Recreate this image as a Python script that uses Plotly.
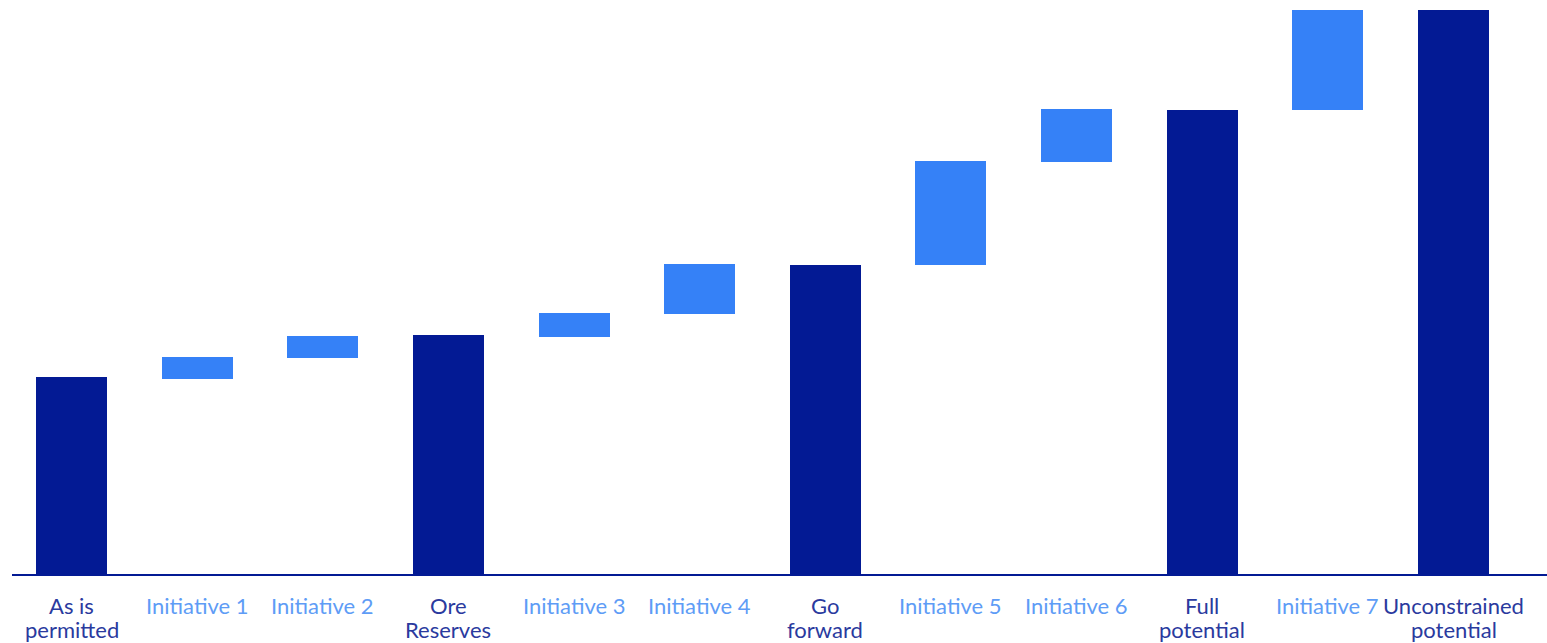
import plotly.graph_objects as go

# Waterfall steps: each bar floats from bar_low to bar_high
categories = ["As is<br>permitted", "Initiative 1", "Initiative 2", "Ore<br>Reserves",
              "Initiative 3", "Initiative 4", "Go<br>forward", "Initiative 5",
              "Initiative 6", "Full<br>potential", "Initiative 7", "Unconstrained<br>potential"]
bar_low = [0, 34.7, 38.4, 0, 42.1, 46.2, 0, 54.9, 73.1, 0, 82.3, 0]
bar_high = [35.0, 38.6, 42.3, 42.5, 46.4, 55.0, 54.9, 73.3, 82.5, 82.3, 100.0, 100.0]
is_total = [True, False, False, True, False, False, True, False, False, True, False, True]

NAVY = "#031A94"
BLUE = "#3581F7"
LABEL_NAVY = "#2A3A9E"
LABEL_BLUE = "#5E9CF6"

x_pos = list(range(len(categories)))
colors = [NAVY if t else BLUE for t in is_total]

fig = go.Figure()
fig.add_trace(go.Bar(
    x=x_pos,
    y=[h - l for h, l in zip(bar_high, bar_low)],
    base=bar_low,
    width=0.565,
    marker=dict(color=colors, line=dict(width=0)),
    hoverinfo="skip",
))

# Category labels, one annotation per text line
annotations = []
for i, (cat, tot) in enumerate(zip(categories, is_total)):
    for k, line in enumerate(cat.split("<br>")):
        annotations.append(dict(
            x=i, xref="x", y=0, yref="paper",
            text=line, showarrow=False,
            xanchor="center", yanchor="middle",
            yshift=-30 - 24 * k,
            font=dict(family="Lato", size=22,
                      color=LABEL_NAVY if tot else LABEL_BLUE),
        ))

fig.update_layout(
    width=1547, height=643,
    margin=dict(l=0, r=0, t=0, b=68),
    paper_bgcolor="white", plot_bgcolor="white",
    showlegend=False,
    bargap=0,
    xaxis=dict(range=[-0.5691, 11.744], visible=False, fixedrange=True),
    yaxis=dict(range=[0, 101.77], visible=False, fixedrange=True),
    annotations=annotations,
    shapes=[dict(type="line", xref="paper", yref="paper",
                 x0=12 / 1547, x1=1, y0=0, y1=0,
                 line=dict(color=NAVY, width=2), layer="above")],
)

fig.write_html("out.html")
